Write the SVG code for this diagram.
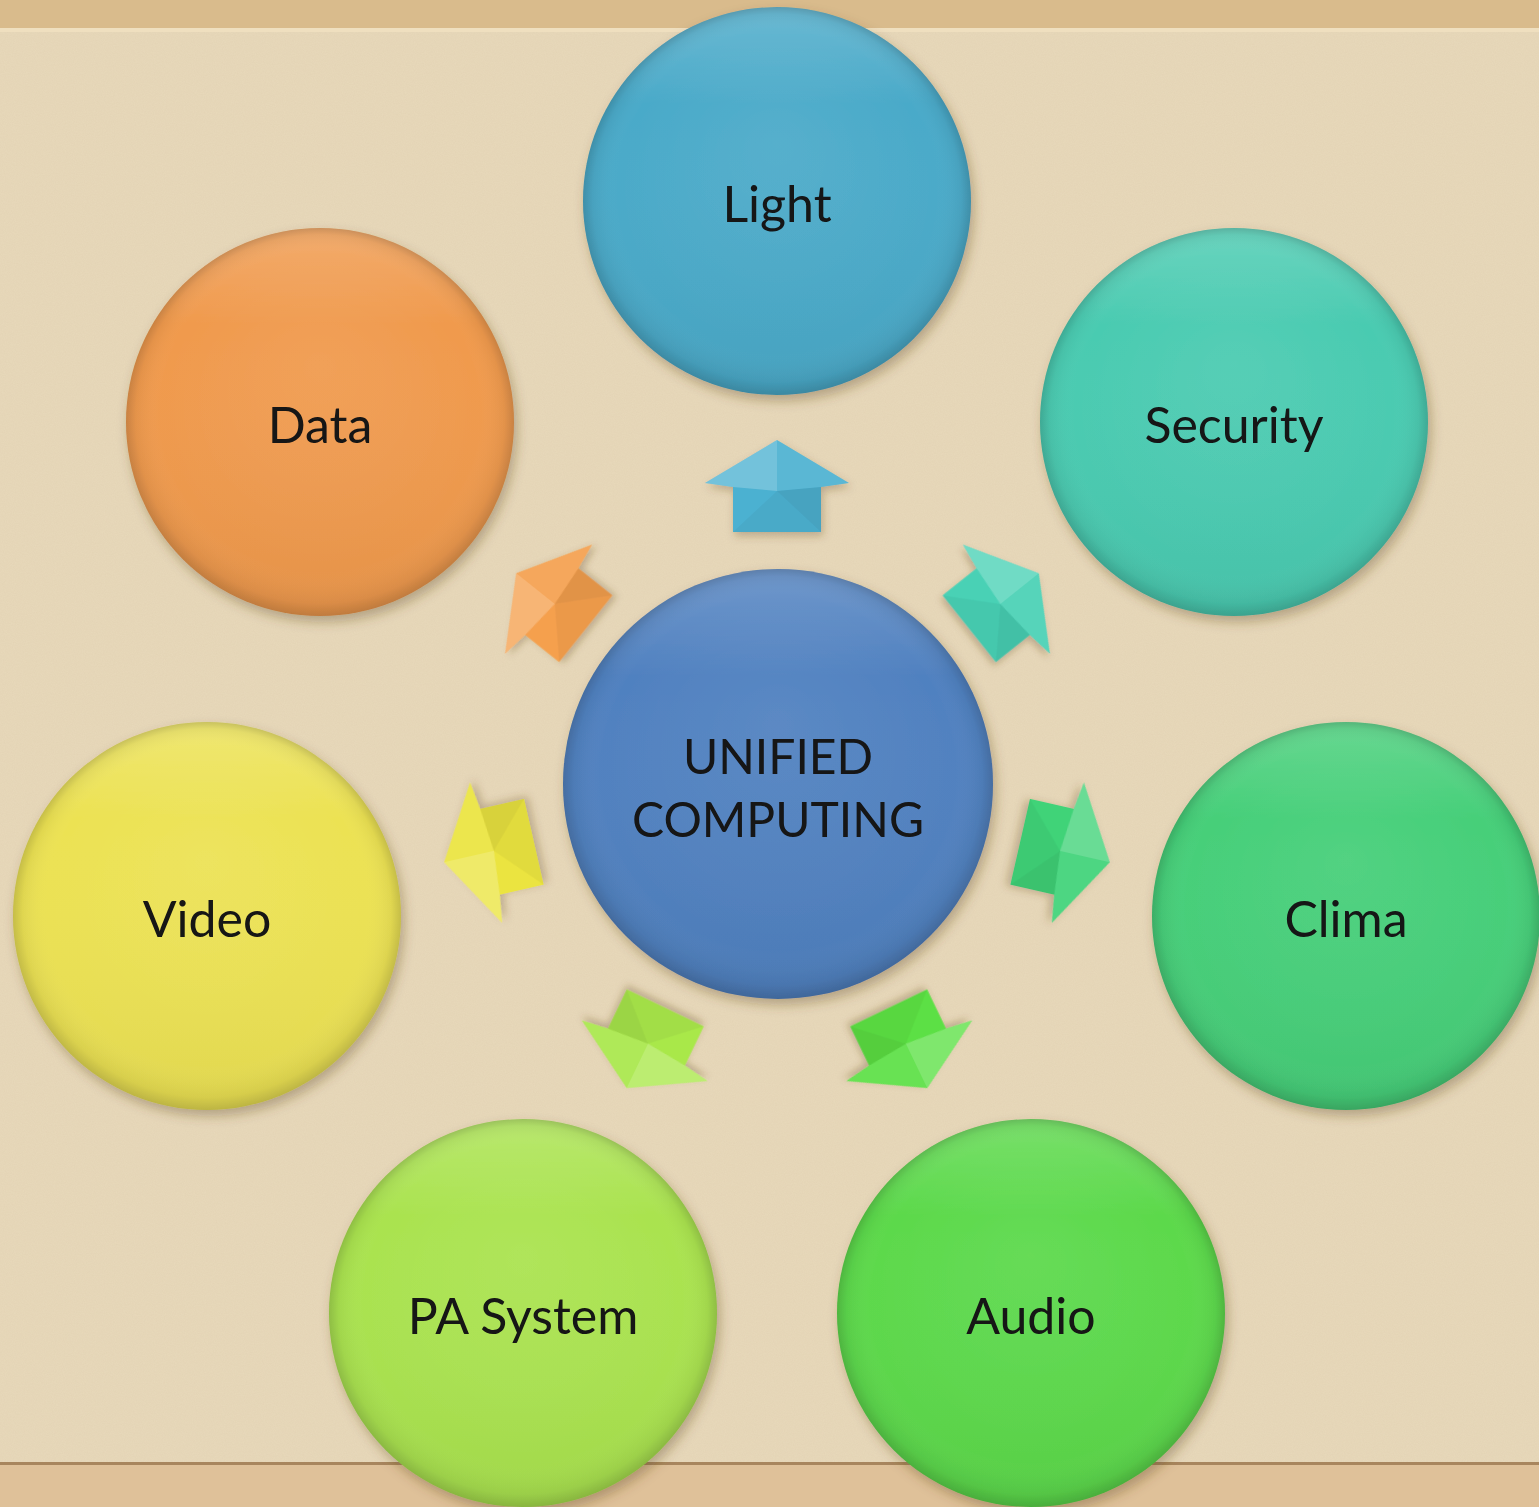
<svg xmlns="http://www.w3.org/2000/svg" width="1539" height="1507" viewBox="0 0 1539 1507">
<style>
.lbl{font-family:Lato,"Open Sans","Liberation Sans",sans-serif;font-size:50px;fill:#121212;text-anchor:middle}
.clbl{font-family:Lato,"Open Sans","Liberation Sans",sans-serif;font-size:48px;fill:#121212;text-anchor:middle}
.node{filter:url(#shadow)}
.shade{fill:url(#bevel)}
.arr{filter:url(#ashadow)}
.fl1{fill:#fff;fill-opacity:0.22}
.fl2{fill:#fff;fill-opacity:0.08}
.fd1{fill:#000;fill-opacity:0.08}
.fd2{fill:#000;fill-opacity:0.04}
</style>
<defs>
<filter id="shadow" x="-20%" y="-20%" width="140%" height="140%">
<feDropShadow dx="3" dy="6" stdDeviation="6" flood-color="#5a4020" flood-opacity="0.35"/>
</filter>
<filter id="ashadow" x="-30%" y="-30%" width="160%" height="160%">
<feDropShadow dx="2" dy="4" stdDeviation="4" flood-color="#5a4020" flood-opacity="0.3"/>
</filter>
<filter id="noise" x="0" y="0" width="100%" height="100%">
<feTurbulence type="fractalNoise" baseFrequency="0.9" numOctaves="2" seed="3"/>
<feColorMatrix type="matrix" values="0 0 0 0 0.55  0 0 0 0 0.42  0 0 0 0 0.25  0 0 0 0.35 -0.05"/>
</filter>
<radialGradient id="bevel" cx="0.5" cy="0.5" r="0.5" fx="0.5" fy="0.35">
<stop offset="0" stop-color="#fff" stop-opacity="0.06"/>
<stop offset="0.82" stop-color="#fff" stop-opacity="0"/>
<stop offset="0.95" stop-color="#000" stop-opacity="0.05"/>
<stop offset="1" stop-color="#000" stop-opacity="0.16"/>
</radialGradient>
<linearGradient id="topHi" x1="0" y1="0" x2="0" y2="1">
<stop offset="0" stop-color="#fff" stop-opacity="0.18"/>
<stop offset="0.25" stop-color="#fff" stop-opacity="0"/>
<stop offset="1" stop-color="#000" stop-opacity="0.05"/>
</linearGradient>
<polygon id="arrow" points="0,-46 72,-3 44,1 44,46 -44,46 -44,1 -72,-3"/>
<g id="facets">
<polygon class="fl1" points="0,-46 -72,-3 -44,1 0,5"/>
<polygon class="fl2" points="0,-46 72,-3 44,1 0,5"/>
<polygon class="fd1" points="44,1 0,5 44,46"/>
<polygon class="fd2" points="-44,46 0,5 44,46"/>
</g>
</defs>

<!-- background -->
<rect x="0" y="0" width="1539" height="1507" fill="#e7d8ba"/>
<rect x="0" y="0" width="1539" height="1507" filter="url(#noise)" opacity="0.35"/>
<rect x="0" y="0" width="1539" height="30" fill="#d9bb8c"/>
<rect x="0" y="28" width="1539" height="4" fill="#efdfbf"/>
<rect x="0" y="1464" width="1539" height="43" fill="#dfc199"/>
<rect x="0" y="1462" width="1539" height="3" fill="#a8865e"/>

<!-- connectors (arrows) -->
<g id="connectors">
<g class="arr" transform="translate(777,486)"><use href="#arrow" fill="#4cb1d1"/><use href="#facets"/></g>
<g class="arr" transform="translate(1004,601) rotate(51.43) scale(0.97)"><use href="#arrow" fill="#48d1b5"/><use href="#facets"/></g>
<g class="arr" transform="translate(1065,852) rotate(102.86) scale(1)"><use href="#arrow" fill="#3fd378"/><use href="#facets"/></g>
<g class="arr" transform="translate(908,1048) rotate(154.29) scale(0.97)"><use href="#arrow" fill="#5ce044"/><use href="#facets"/></g>
<g class="arr" transform="translate(646,1048) rotate(205.71) scale(0.97)"><use href="#arrow" fill="#a9e84a"/><use href="#facets"/></g>
<g class="arr" transform="translate(489,852) rotate(257.14) scale(1)"><use href="#arrow" fill="#ebe43f"/><use href="#facets"/></g>
<g class="arr" transform="translate(551,601) rotate(308.57) scale(0.97)"><use href="#arrow" fill="#f5a04e"/><use href="#facets"/></g>
</g>

<!-- nodes -->
<g id="node-center" class="node">
<circle cx="778" cy="784" r="215" fill="#5081c0"/>
<circle cx="778" cy="784" r="215" fill="url(#topHi)"/>
<circle cx="778" cy="784" r="215" class="shade"/>
<text class="clbl" x="778" y="774">UNIFIED</text>
<text class="clbl" x="778" y="837">COMPUTING</text>
</g>
<g id="node-light" class="node">
<circle cx="777" cy="201" r="194" fill="#4aaac9"/>
<circle cx="777" cy="201" r="194" fill="url(#topHi)"/>
<circle cx="777" cy="201" r="194" class="shade"/>
<text class="lbl" x="777" y="222">Light</text>
</g>
<g id="node-security" class="node">
<circle cx="1234" cy="422" r="194" fill="#4acbb1"/>
<circle cx="1234" cy="422" r="194" fill="url(#topHi)"/>
<circle cx="1234" cy="422" r="194" class="shade"/>
<text class="lbl" x="1234" y="443">Security</text>
</g>
<g id="node-clima" class="node">
<circle cx="1346" cy="916" r="194" fill="#46cf79"/>
<circle cx="1346" cy="916" r="194" fill="url(#topHi)"/>
<circle cx="1346" cy="916" r="194" class="shade"/>
<text class="lbl" x="1346" y="937">Clima</text>
</g>
<g id="node-audio" class="node">
<circle cx="1031" cy="1313" r="194" fill="#5cd94b"/>
<circle cx="1031" cy="1313" r="194" fill="url(#topHi)"/>
<circle cx="1031" cy="1313" r="194" class="shade"/>
<text class="lbl" x="1031" y="1334">Audio</text>
</g>
<g id="node-pa" class="node">
<circle cx="523" cy="1313" r="194" fill="#aae34f"/>
<circle cx="523" cy="1313" r="194" fill="url(#topHi)"/>
<circle cx="523" cy="1313" r="194" class="shade"/>
<text class="lbl" x="523" y="1334">PA System</text>
</g>
<g id="node-video" class="node">
<circle cx="207" cy="916" r="194" fill="#ece253"/>
<circle cx="207" cy="916" r="194" fill="url(#topHi)"/>
<circle cx="207" cy="916" r="194" class="shade"/>
<text class="lbl" x="207" y="937">Video</text>
</g>
<g id="node-data" class="node">
<circle cx="320" cy="422" r="194" fill="#f09a4d"/>
<circle cx="320" cy="422" r="194" fill="url(#topHi)"/>
<circle cx="320" cy="422" r="194" class="shade"/>
<text class="lbl" x="320" y="443">Data</text>
</g>
</svg>
